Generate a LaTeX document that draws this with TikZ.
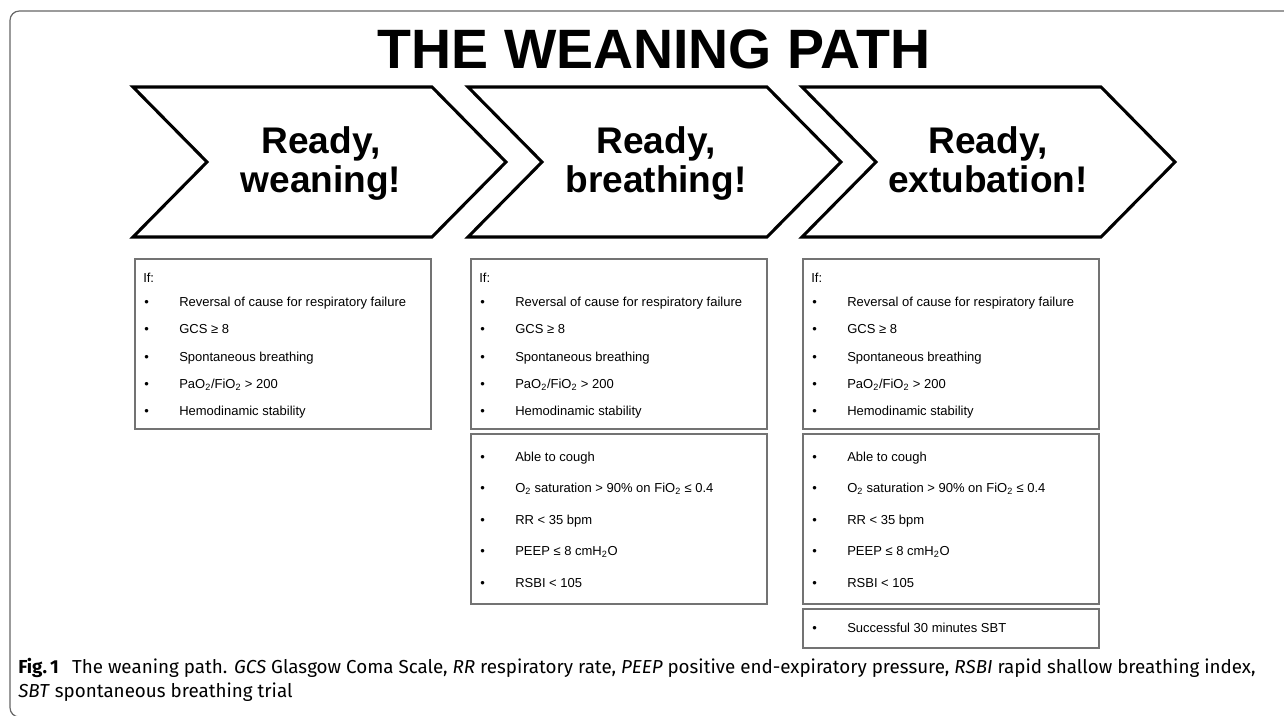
\documentclass[tikz,border=0pt]{standalone}
\usepackage{fontspec}
\setmainfont{Liberation Sans}
\newfontfamily\capfont{Fira Sans}
\begin{document}
\begin{tikzpicture}[x=0.75pt,y=-0.75pt,
  chev/.style={draw=black,line width=2.3pt,line join=miter,fill=white},
  frameln/.style={draw=black!60,line width=0.9pt},
  boxln/.style={draw=black!55,line width=0.8pt},
  chevtxt/.style={font=\fontsize{27.8pt}{29.5pt}\selectfont\bfseries,anchor=base,inner sep=0pt},
  itemtxt/.style={font=\fontsize{9.75pt}{11pt}\selectfont,anchor=base west,inner sep=0pt},
  captxt/.style={font=\capfont\fontsize{14.1pt}{16pt}\selectfont,anchor=base west,inner sep=0pt}]
\useasboundingbox (0,0) rectangle (1284,715);
% frame
\draw[frameln,rounded corners=7pt] (1300,11) -- (10,11) -- (10,717) -- (40,717);
% title
\node[font=\fontsize{41.6pt}{44pt}\selectfont\bfseries,anchor=base,inner sep=0pt] (title) at (654,68) {THE WEANING PATH};
% chevrons
\foreach \i/\x in {1/133,2/468,3/802}{
  \draw[chev] (\x,87) -- (\x+299,87) -- (\x+373,162) -- (\x+299,237) -- (\x,237) -- (\x+74,162) -- cycle;
}
\node[chevtxt] (c1a) at (321,153) {Ready,};
\node[chevtxt] (c1b) at (321,192) {weaning!};
\node[chevtxt] (c2a) at (656,153) {Ready,};
\node[chevtxt] (c2b) at (656,192) {breathing!};
\node[chevtxt] (c3a) at (988,153) {Ready,};
\node[chevtxt] (c3b) at (988,192) {extubation!};
% boxes
\foreach \x in {135,471,803}{
  \draw[boxln] (\x,259) rectangle (\x+296,429);
  \node[itemtxt] at (\x+8,282) {If:};
  \foreach \y/\t in {306.5/{Reversal of cause for respiratory failure},
                     333.5/{GCS ≥ 8},
                     361.5/{Spontaneous breathing},
                     388.5/{PaO\textsubscript{2}/FiO\textsubscript{2} > 200},
                     415.5/{Hemodinamic stability}}{
    \node[itemtxt] at (\x+9,\y) {•};
    \node[itemtxt] at (\x+44,\y) {\t};
  }
}
\foreach \x in {471,803}{
  \draw[boxln] (\x,434) rectangle (\x+296,604);
  \foreach \y/\t in {461.5/{Able to cough},
                     492.5/{O\textsubscript{2} saturation > 90\% on FiO\textsubscript{2} ≤ 0.4},
                     524.5/{RR < 35 bpm},
                     555.5/{PEEP ≤ 8 cmH\textsubscript{2}O},
                     587.5/{RSBI < 105}}{
    \node[itemtxt] at (\x+9,\y) {•};
    \node[itemtxt] at (\x+44,\y) {\t};
  }
}
\draw[boxln] (803,609) rectangle (1099,648);
\node[itemtxt] (sb) at (812,632.5) {•};
\node[itemtxt] (sbt) at (847,632.5) {Successful 30 minutes SBT};
% caption
\node[captxt] (cap1) at (18,673) {\textbf{Fig.\,1}\hspace{0.7em}The weaning path. \textit{GCS} Glasgow Coma Scale, \textit{RR} respiratory rate, \textit{PEEP} positive end-expiratory pressure, \textit{RSBI} rapid shallow breathing index,};
\node[captxt] (cap2) at (18,697) {\textit{SBT} spontaneous breathing trial};
\end{tikzpicture}
\end{document}
